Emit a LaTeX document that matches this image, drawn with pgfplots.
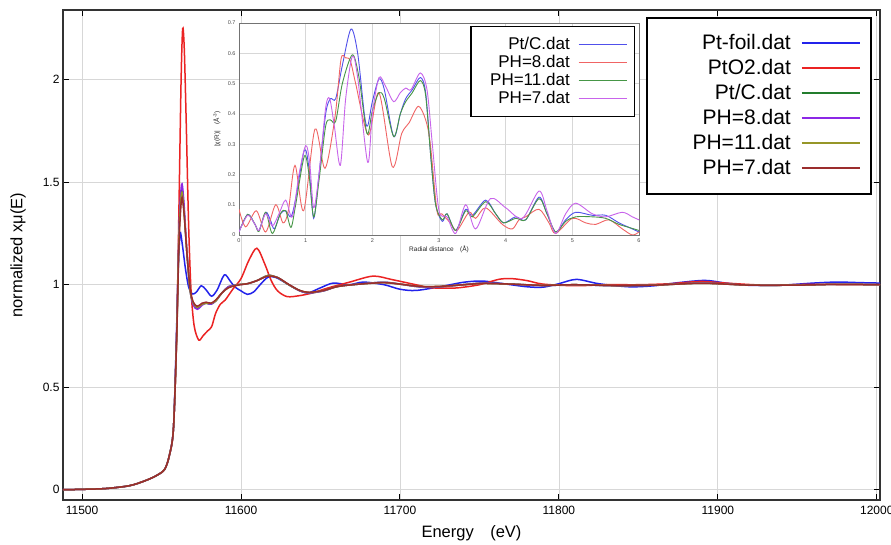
\documentclass[border=0pt]{standalone}
\usepackage{fontspec}
\setmainfont{Liberation Sans}
\usepackage{pgfplots}
\pgfplotsset{compat=1.18}
\usepackage{pgfplotstable}

\definecolor{cfoil}{RGB}{35,35,235}
\definecolor{cpto}{RGB}{235,35,35}
\definecolor{cptc}{RGB}{35,125,45}
\definecolor{cph8}{RGB}{140,40,230}
\definecolor{cph11}{RGB}{150,150,40}
\definecolor{cph7}{RGB}{155,45,45}
\definecolor{iblue}{RGB}{80,80,235}
\definecolor{ired}{RGB}{240,100,100}
\definecolor{igreen}{RGB}{70,150,70}
\definecolor{iviolet}{RGB}{200,100,235}
\definecolor{gridc}{RGB}{215,215,215}

% XANES, Pt-foil
\pgfplotstableread{
E mu
11487 0
11500 0.002
11515 0.006
11530 0.02
11540 0.045
11547 0.07
11552 0.1
11555 0.17
11557.5 0.3
11559 0.65
11560.5 1.08
11561.7 1.25
11563 1.2
11565 1.08
11567 0.99
11569.5 0.955
11572 0.965
11575 0.995
11578 0.975
11581.5 0.944
11585 0.975
11589.5 1.048
11593 1.02
11596 0.99
11600 0.97
11604 0.953
11608 0.965
11612 1.0
11617 1.037
11622 1.035
11630 1.0
11636 0.975
11642 0.96
11650 0.985
11658 1.008
11668 1.0
11677 1.013
11690 1.0
11700 0.978
11710 0.972
11725 0.99
11740 1.012
11752 1.018
11765 1.005
11780 0.99
11790 0.988
11800 1.005
11811 1.026
11825 1.005
11844 0.99
11860 0.995
11875 1.01
11892 1.021
11905 1.008
11920 0.997
11940 0.998
11960 1.008
11975 1.013
11990 1.01
12002 1.008
}\foil

% XANES, PtO2
\pgfplotstableread{
E mu
11487 0
11500 0.002
11515 0.006
11530 0.02
11540 0.045
11547 0.07
11552 0.1
11555 0.17
11557.5 0.3
11559.5 0.75
11561 1.4
11562.3 2.0
11563.3 2.25
11564.3 2.15
11565.5 1.8
11567 1.3
11568.5 0.98
11570.5 0.8
11573.4 0.73
11576 0.75
11579 0.775
11581.5 0.795
11584 0.86
11587 0.905
11590 0.925
11595 0.98
11600 1.03
11605 1.12
11610 1.178
11615 1.1
11619 1.02
11623 0.97
11629 0.942
11637 0.947
11645 0.96
11655 0.985
11668 1.012
11683 1.042
11695 1.025
11710 1.0
11720 0.985
11735 0.984
11750 1.0
11762 1.026
11770 1.03
11780 1.02
11790 1.003
11810 0.995
11830 1.0
11850 1.0
11870 1.005
11889 1.016
11905 1.008
11930 0.998
11960 1.002
11985 1.0
12002 1.0
}\pto

% XANES, Pt/C and the three PH samples
\pgfplotstableread{
E ptc ph8 ph11 ph7
11487 0 0 0 0
11500 0.002 0.002 0.002 0.002
11515 0.006 0.006 0.006 0.006
11530 0.02 0.02 0.02 0.02
11540 0.045 0.045 0.045 0.045
11547 0.07 0.07 0.07 0.07
11552 0.1 0.1 0.1 0.1
11555 0.17 0.17 0.17 0.17
11557.5 0.3 0.3 0.3 0.3
11559.5 0.75 0.76 0.74 0.73
11561 1.25 1.27 1.24 1.2
11562.6 1.46 1.49 1.45 1.42
11564 1.38 1.41 1.37 1.36
11566 1.15 1.16 1.15 1.15
11568 0.97 0.97 0.97 0.98
11570 0.905 0.9 0.91 0.915
11572.5 0.885 0.88 0.89 0.895
11575.5 0.905 0.9 0.905 0.91
11578 0.91 0.91 0.91 0.915
11581 0.905 0.905 0.91 0.91
11584 0.92 0.92 0.92 0.925
11588 0.96 0.96 0.96 0.96
11592 0.99 0.99 0.985 0.985
11598 1.0 1.0 1.0 0.998
11604 1.005 1.005 1.005 1.005
11610 1.02 1.02 1.02 1.02
11617 1.045 1.045 1.045 1.042
11623 1.035 1.035 1.035 1.035
11630 1.0 1.0 1.0 1.002
11637 0.97 0.97 0.972 0.972
11643 0.96 0.96 0.962 0.963
11652 0.97 0.97 0.972 0.972
11660 0.99 0.99 0.99 0.99
11670 1.0 1.0 1.0 1.0
11689 1.012 1.012 1.01 1.01
11700 1.003 1.003 1.003 1.003
11712 0.99 0.99 0.992 0.992
11725 0.99 0.99 0.992 0.992
11740 1.0 1.0 1.0 1.0
11752 1.008 1.008 1.006 1.006
11770 1.003 1.003 1.003 1.003
11790 0.996 0.996 0.997 0.997
11810 1.0 1.0 1.0 1.0
11835 0.995 0.995 0.996 0.996
11860 0.998 0.998 0.998 0.998
11890 1.008 1.008 1.007 1.007
11920 0.998 0.998 0.998 0.998
11950 0.998 0.998 0.998 0.998
11975 1.002 1.002 1.002 1.002
12002 1.0 1.0 1.0 1.0
}\cluster

% inset |chi(R)|
\pgfplotstableread{
R chi
0 0.01
0.13 0.068
0.24 0.035
0.3 0.015
0.4 0.075
0.47 0.05
0.53 0.02
0.62 0.07
0.7 0.08
0.78 0.06
0.85 0.12
0.98 0.28
1.05 0.22
1.12 0.055
1.2 0.2
1.3 0.4
1.37 0.45
1.45 0.45
1.55 0.56
1.68 0.68
1.78 0.6
1.88 0.4
1.93 0.36
2.0 0.44
2.1 0.515
2.18 0.48
2.32 0.325
2.42 0.4
2.5 0.45
2.6 0.48
2.72 0.52
2.8 0.47
2.88 0.25
2.95 0.1
3.05 0.045
3.12 0.07
3.25 0.015
3.4 0.085
3.5 0.065
3.7 0.115
3.85 0.07
3.97 0.04
4.15 0.06
4.3 0.05
4.5 0.125
4.62 0.07
4.75 0.01
4.9 0.05
5.05 0.075
5.3 0.065
5.5 0.065
5.7 0.04
5.85 0.025
6.0 0.01
}\iptc

\pgfplotstableread{
R chi
0 0.085
0.1 0.027
0.26 0.08
0.4 0.01
0.55 0.1
0.66 0.04
0.74 0.08
0.84 0.23
0.97 0.08
1.14 0.35
1.29 0.22
1.44 0.39
1.53 0.58
1.6 0.585
1.67 0.575
1.75 0.5
1.94 0.33
2.1 0.47
2.3 0.225
2.44 0.335
2.55 0.37
2.69 0.425
2.8 0.38
2.87 0.3
2.97 0.08
3.04 0.07
3.17 0.04
3.27 0.015
3.45 0.075
3.55 0.055
3.7 0.09
3.95 0.035
4.1 0.02
4.2 0.05
4.3 0.06
4.5 0.085
4.65 0.04
4.75 0.005
5.0 0.055
5.2 0.04
5.35 0.035
5.55 0.05
5.75 0.02
5.9 0.0
6.0 0.01
}\iph

\pgfplotstableread{
R chi
0 0.01
0.13 0.068
0.24 0.035
0.3 0.012
0.4 0.075
0.5 0.005
0.62 0.07
0.7 0.08
0.78 0.025
0.85 0.1
0.98 0.26
1.05 0.2
1.12 0.06
1.2 0.18
1.3 0.36
1.37 0.38
1.45 0.375
1.55 0.5
1.7 0.595
1.8 0.52
1.92 0.335
2.0 0.41
2.1 0.47
2.18 0.45
2.32 0.325
2.42 0.4
2.5 0.44
2.6 0.47
2.72 0.51
2.8 0.46
2.88 0.25
2.95 0.1
3.05 0.05
3.12 0.07
3.25 0.015
3.4 0.08
3.5 0.06
3.7 0.11
3.85 0.07
3.97 0.04
4.15 0.055
4.3 0.05
4.5 0.12
4.62 0.07
4.75 0.01
4.9 0.045
5.05 0.06
5.3 0.06
5.5 0.055
5.7 0.035
5.85 0.025
6.0 0.015
}\iphe

\pgfplotstableread{
R chi
0 0.01
0.13 0.065
0.24 0.035
0.3 0.015
0.4 0.07
0.5 0.03
0.6 0.07
0.7 0.115
0.8 0.06
0.9 0.2
1.0 0.295
1.06 0.24
1.12 0.09
1.2 0.2
1.3 0.42
1.36 0.45
1.43 0.36
1.52 0.23
1.6 0.45
1.7 0.59
1.78 0.52
1.93 0.24
2.0 0.4
2.1 0.52
2.2 0.49
2.32 0.44
2.42 0.47
2.5 0.485
2.58 0.48
2.72 0.535
2.82 0.48
2.9 0.3
3.0 0.08
3.12 0.06
3.25 0.005
3.4 0.1
3.55 0.02
3.77 0.12
4.0 0.09
4.25 0.055
4.5 0.145
4.62 0.08
4.75 0.005
4.9 0.07
5.05 0.105
5.3 0.07
5.5 0.06
5.75 0.075
5.9 0.06
6.0 0.05
}\iphs

\begin{document}
\begin{tikzpicture}
\begin{axis}[
  scale only axis,
  width=817pt, height=490pt,
  xmin=11488, xmax=12002,
  ymin=-0.05, ymax=2.34,
  xtick={11500,11600,...,12000},
  ytick={0,0.5,1,1.5,2},
  scaled x ticks=false,
  /pgf/number format/assume math mode=true,
  xticklabel style={/pgf/number format/1000 sep={}, yshift=-3pt},
  tick label style={font=\fontsize{12}{14}\selectfont},
  tick align=inside,
  major tick length=6pt,
  tick style={black, line width=1pt},
  grid=major,
  grid style={gridc, line width=0.8pt},
  axis line style={black!80, line width=1.5pt},
  xlabel={Energy\quad(eV)},
  ylabel={normalized xμ(E)},
  label style={font=\fontsize{16.5}{19}\selectfont},
  x label style={at={(axis description cs:0.5,-0.068)}, anchor=center},
  y label style={at={(axis description cs:-0.055,0.5)}, anchor=center},
  legend plot pos=right,
  legend cell align=right,
  legend image code/.code={\draw[#1, line width=2pt] (0pt,0pt) -- (58pt,0pt);},
  legend style={at={(0.990,0.986)}, anchor=north east,
    draw=black, line width=2pt, fill=white,
    font=\fontsize{21}{25}\selectfont,
    inner xsep=10pt, inner ysep=13pt,
    nodes={text height=16.5pt, text depth=4.5pt},
    /tikz/every odd column/.append style={column sep=8pt}},
]
\addplot[cfoil, line width=1.5pt, smooth] table[x=E, y=mu] {\foil};
\addlegendentry{\makebox[132pt][r]{Pt-foil.dat}}
\addplot[cpto, line width=1.5pt, smooth] table[x=E, y=mu] {\pto};
\addlegendentry{\makebox[132pt][r]{PtO2.dat}}
\addplot[cptc, line width=1.5pt, smooth] table[x=E, y=ptc] {\cluster};
\addlegendentry{\makebox[132pt][r]{Pt/C.dat}}
\addplot[cph8, line width=1.5pt, smooth] table[x=E, y=ph8] {\cluster};
\addlegendentry{\makebox[132pt][r]{PH=8.dat}}
\addplot[cph11, line width=1.5pt, smooth] table[x=E, y=ph11] {\cluster};
\addlegendentry{\makebox[132pt][r]{PH=11.dat}}
\addplot[cph7, line width=1.5pt, smooth] table[x=E, y=ph7] {\cluster};
\addlegendentry{\makebox[132pt][r]{PH=7.dat}}
\end{axis}

\begin{axis}[
  at={(176pt,265pt)}, anchor=south west,
  scale only axis,
  width=400pt, height=212pt,
  xmin=0, xmax=6, ymin=0, ymax=0.7,
  xtick={0,1,...,6},
  ytick={0,0.1,...,0.7},
  /pgf/number format/assume math mode=true,
  tick label style={font=\fontsize{5.5}{6}\selectfont, black!70},
  yticklabel style={/pgf/number format/fixed, /pgf/number format/precision=1},
  tick align=inside,
  major tick length=0pt,
  grid=major,
  grid style={gridc, line width=0.6pt},
  axis line style={black!55, line width=0.8pt},
  axis background/.style={fill=white},
  xlabel={Radial distance\quad(Å)},
  ylabel={|χ(R)|\quad(Å\textsuperscript{-3})},
  label style={font=\fontsize{6.5}{8}\selectfont, black!85},
  x label style={at={(axis description cs:0.5,-0.07)}, anchor=center},
  y label style={at={(axis description cs:-0.055,0.5)}, anchor=center},
  legend plot pos=right,
  legend cell align=right,
  legend image code/.code={\draw[#1, line width=1.5pt] (0pt,0pt) -- (48pt,0pt);},
  legend style={at={(0.99,0.986)}, anchor=north east,
    draw=black, line width=1.5pt, fill=white,
    font=\fontsize{17}{18}\selectfont,
    inner xsep=7pt, inner ysep=9pt,
    nodes={text height=11.5pt, text depth=2.5pt},
    /tikz/every odd column/.append style={column sep=6pt}},
]
\addplot[iblue, line width=0.9pt, smooth] table[x=R, y=chi] {\iptc};
\addlegendentry{\makebox[90pt][r]{Pt/C.dat}}
\addplot[ired, line width=0.9pt, smooth] table[x=R, y=chi] {\iph};
\addlegendentry{\makebox[90pt][r]{PH=8.dat}}
\addplot[igreen, line width=0.9pt, smooth] table[x=R, y=chi] {\iphe};
\addlegendentry{\makebox[90pt][r]{PH=11.dat}}
\addplot[iviolet, line width=0.9pt, smooth] table[x=R, y=chi] {\iphs};
\addlegendentry{\makebox[90pt][r]{PH=7.dat}}
\end{axis}
\pgfresetboundingbox
\path[use as bounding box] (-63pt,-45pt) rectangle (828pt,500pt);
\end{tikzpicture}
\end{document}
